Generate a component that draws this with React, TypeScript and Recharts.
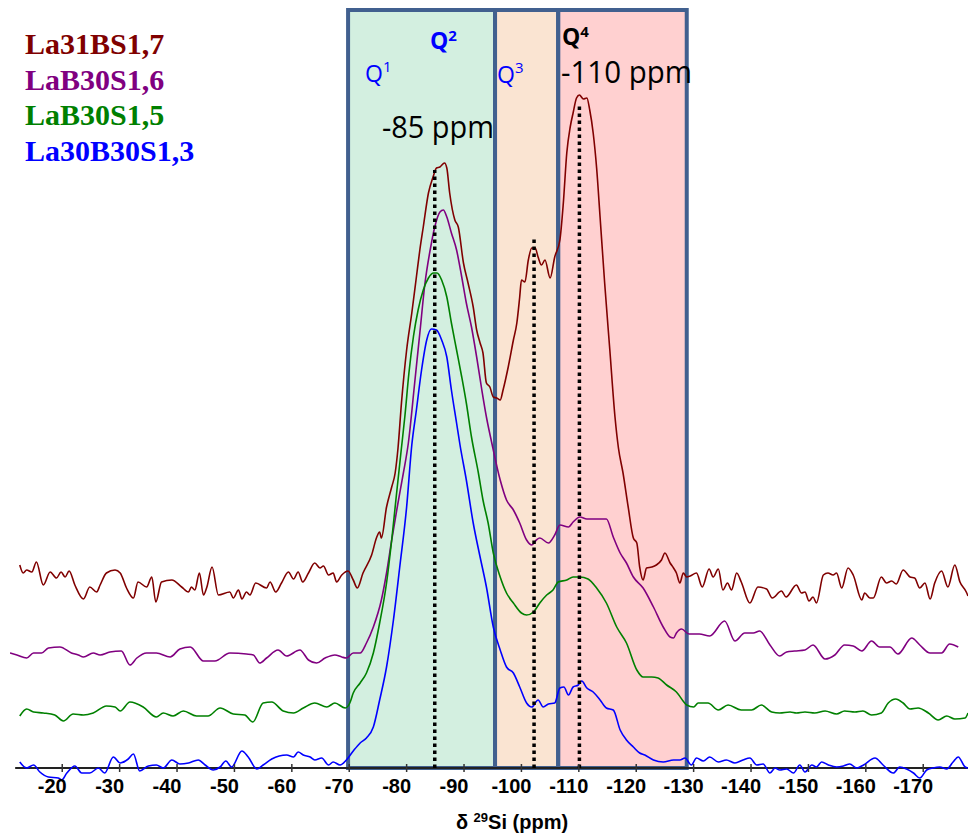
import React from 'react';
import { LineChart, Line, XAxis, YAxis, ReferenceArea, ReferenceLine } from 'recharts';

// ---------- data (chemical shift in ppm, intensity in arbitrary units above baseline) ----------
const RED_PPM = [
  -12.6, -13.2, -13.8, -14.7, -15.5, -16.7, -17.9, -19.0, -19.8, -20.5,
  -21.2, -22.2, -23.7, -24.8, -26.0, -26.6, -27.7, -29.2, -30.1, -31.2,
  -32.4, -33.2, -34.7, -35.6, -36.3, -37.3, -39.1, -40.8, -42.0, -42.5,
  -43.1, -43.9, -44.6, -45.2, -46.1, -47.2, -49.2, -49.8, -50.7, -51.3,
  -52.1, -52.7, -53.7, -55.6, -56.2, -57.2, -58.2, -59.4, -60.3, -61.1,
  -61.9, -62.9, -64.0, -64.9, -65.5, -66.4, -67.2, -67.8, -68.7, -69.8,
  -70.7, -71.4, -72.4, -73.9, -74.8, -75.3, -75.6, -76.5, -77.4, -78.0,
  -78.5, -79.1, -80.0, -80.9, -81.7, -82.3, -82.9, -83.8, -84.6, -85.2,
  -85.8, -86.6, -87.0, -87.5, -88.4, -89.0, -89.9, -90.7, -91.6, -92.2,
  -92.8, -93.3, -93.9, -94.5, -95.1, -95.7, -96.3, -96.8, -97.7, -98.6,
  -99.2, -99.7, -100.0, -100.6, -101.2, -101.8, -102.4, -102.9, -103.5, -104.1,
  -105.0, -105.8, -106.7, -107.3, -107.9, -108.5, -109.0, -109.6, -110.1, -110.8,
  -111.4, -111.9, -112.5, -113.1, -113.7, -114.5, -115.4, -116.3, -116.9, -117.7,
  -118.6, -119.5, -120.1, -120.6, -121.2, -121.8, -122.7, -123.5, -124.4, -125.0,
  -125.9, -126.5, -127.0, -127.6, -128.2, -128.8, -129.4, -130.5, -131.5, -132.7,
  -133.4, -134.3, -135.1, -135.9, -136.6, -137.5, -138.3, -139.8, -141.2, -142.7,
  -143.7, -145.3, -146.1, -147.9, -148.8, -149.4, -150.1, -150.8, -151.4, -152.6,
  -153.4, -154.3, -154.9, -155.8, -156.9, -157.8, -159.3, -159.8, -160.7, -161.3,
  -162.7, -163.6, -164.5, -165.3, -166.5, -167.7, -168.5, -169.4, -170.3, -171.2,
  -172.0, -173.2, -174.3, -175.5, -176.4, -177.5, -177.8,
];
const RED_VAL = [
  203, 195, 198, 196, 206, 183, 196, 190, 196, 191,
  197, 183, 169, 181, 176, 183, 195, 198, 195, 180,
  170, 186, 181, 191, 166, 186, 188, 181, 176, 181,
  178, 195, 173, 181, 201, 173, 176, 170, 178, 169,
  176, 173, 185, 180, 186, 176, 185, 196, 189, 196,
  186, 195, 205, 200, 202, 193, 195, 186, 193, 197,
  188, 180, 195, 213, 231, 236, 230, 261, 281, 295,
  320, 365, 418, 455, 491, 518, 541, 575, 591, 600,
  601, 605, 600, 575, 548, 541, 505, 485, 461, 438,
  425, 415, 385, 381, 371, 370, 368, 378, 401, 428,
  445, 471, 488, 486, 508, 520, 520, 511, 503, 508,
  490, 511, 528, 565, 615, 641, 655, 670, 673, 669,
  670, 658, 635, 600, 551, 485, 418, 351, 320, 295,
  261, 230, 225, 201, 188, 200, 201, 203, 208, 215,
  205, 200, 195, 185, 195, 191, 192, 195, 181, 199,
  191, 199, 178, 185, 178, 195, 186, 165, 181, 179,
  170, 177, 171, 183, 175, 176, 167, 171, 165, 193,
  195, 193, 195, 180, 200, 193, 168, 175, 170, 170,
  191, 185, 187, 184, 198, 191, 190, 180, 185, 169,
  185, 197, 181, 203, 186, 176, 172,
];

const PURPLE_PPM = [
  -10.9, -12.1, -13.8, -15.0, -16.4, -17.6, -19.6, -21.6, -22.8, -23.7,
  -25.4, -26.6, -28.3, -30.3, -31.8, -33.0, -34.7, -36.4, -38.8, -40.5,
  -42.3, -44.6, -46.6, -49.2, -52.1, -53.3, -54.4, -55.6, -57.6, -59.1,
  -61.4, -62.9, -64.3, -65.8, -67.5, -68.7, -69.5, -70.7, -71.9, -73.0,
  -74.2, -75.6, -76.5, -77.4, -78.4, -79.4, -80.3, -81.4, -82.3, -83.2,
  -84.1, -84.9, -85.8, -86.4, -87.0, -87.8, -88.7, -89.6, -90.4, -91.3,
  -92.2, -93.1, -93.9, -94.8, -96.3, -97.4, -98.6, -99.7, -100.9, -101.8,
  -102.6, -103.2, -104.7, -105.8, -106.7, -108.2, -109.0, -110.2, -111.4, -112.5,
  -114.8, -116.0, -117.2, -118.3, -119.5, -121.2, -123.0, -124.7, -125.9, -126.5,
  -127.0, -127.9, -129.2, -131.0, -132.8, -135.4, -137.2, -138.9, -140.4, -141.5,
  -143.3, -145.0, -146.2, -147.6, -149.4, -150.8, -152.9, -154.6, -156.3, -157.8,
  -159.3, -161.0, -162.4, -164.2, -165.6, -168.0, -169.4, -171.2, -173.2, -174.6,
  -176.1,
];
const PURPLE_VAL = [
  115, 113, 110, 115, 115, 120, 121, 115, 113, 111,
  115, 113, 116, 117, 103, 110, 115, 115, 111, 119,
  121, 107, 107, 115, 114, 113, 105, 110, 118, 112,
  118, 108, 105, 110, 113, 111, 110, 115, 115, 125,
  141, 168, 195, 228, 262, 294, 325, 385, 435, 485,
  518, 541, 556, 558, 551, 535, 518, 491, 465, 441,
  411, 378, 351, 326, 288, 268, 258, 245, 228, 223,
  228, 230, 225, 233, 243, 241, 246, 251, 249, 249,
  249, 231, 215, 205, 191, 180, 161, 141, 131, 130,
  135, 139, 134, 134, 132, 147, 127, 135, 135, 137,
  123, 112, 116, 117, 118, 123, 109, 113, 123, 122,
  117, 127, 121, 121, 114, 130, 123, 115, 115, 124,
  121,
];

const GREEN_PPM = [
  -12.6, -13.8, -15.0, -16.7, -18.7, -20.2, -21.9, -23.7, -25.4, -27.7,
  -29.2, -30.1, -31.8, -34.1, -36.4, -37.6, -39.3, -41.1, -43.4, -45.4,
  -47.5, -49.8, -51.8, -53.2, -55.0, -56.5, -58.5, -60.3, -62.0, -64.0,
  -66.1, -67.5, -69.3, -70.1, -70.7, -71.9, -73.0, -74.2, -75.3, -76.5,
  -77.4, -78.2, -79.0, -79.7, -80.4, -81.2, -82.0, -82.9, -83.8, -84.7,
  -85.3, -86.1, -87.0, -87.8, -88.7, -89.6, -90.4, -91.3, -92.5, -93.3,
  -94.2, -95.1, -96.3, -97.4, -98.6, -100.0, -100.9, -102.1, -103.2, -104.4,
  -105.5, -106.4, -107.9, -109.0, -110.2, -111.6, -113.1, -114.8, -116.6, -118.3,
  -120.1, -121.2, -122.7, -123.8, -125.3, -127.0, -128.8, -130.0, -130.8, -132.5,
  -134.3, -136.0, -138.3, -140.1, -141.8, -143.6, -145.0, -146.8, -147.9, -149.4,
  -151.1, -152.9, -154.9, -156.3, -158.1, -159.5, -161.0, -162.7, -163.9, -165.2,
  -166.5, -167.7, -169.1, -170.9, -172.6, -174.1, -175.5, -177.3, -177.8,
];
const GREEN_VAL = [
  52, 59, 56, 55, 53, 47, 54, 53, 55, 62,
  61, 57, 66, 61, 51, 55, 52, 57, 52, 52,
  60, 54, 53, 46, 65, 66, 57, 55, 60, 65,
  61, 65, 60, 65, 75, 85, 95, 115, 145, 185,
  228, 272, 315, 352, 395, 432, 458, 478, 490, 495,
  495, 488, 471, 445, 418, 391, 365, 331, 295, 268,
  245, 215, 191, 175, 165, 155, 153, 156, 165, 173,
  178, 186, 188, 191, 191, 189, 180, 165, 141, 125,
  98, 91, 91, 90, 83, 76, 63, 61, 65, 65,
  58, 63, 58, 58, 63, 56, 55, 56, 55, 56,
  55, 57, 54, 57, 56, 57, 53, 55, 65, 69,
  65, 59, 60, 55, 48, 52, 49, 50, 55,
];

const BLUE_PPM = [
  -12.6, -13.8, -15.0, -16.1, -17.6, -19.3, -19.9, -20.8, -22.2, -23.4,
  -24.8, -26.3, -27.4, -28.9, -30.1, -31.5, -32.4, -33.5, -35.0, -36.4,
  -37.6, -39.1, -40.5, -42.0, -43.7, -44.9, -46.3, -47.5, -48.5, -49.5,
  -51.3, -52.4, -53.9, -55.0, -56.5, -59.1, -60.3, -61.1, -62.0, -63.2,
  -64.0, -65.2, -66.4, -67.2, -68.4, -69.5, -70.7, -71.9, -73.0, -74.2,
  -75.3, -76.5, -77.7, -78.8, -80.0, -80.9, -81.7, -82.6, -83.5, -84.3,
  -85.2, -86.1, -87.0, -87.8, -88.7, -89.3, -90.4, -91.6, -92.8, -93.9,
  -95.1, -96.3, -97.4, -98.6, -99.7, -100.9, -101.8, -102.9, -103.8, -104.7,
  -105.8, -106.7, -107.4, -108.2, -109.0, -109.9, -110.5, -111.4, -112.5, -113.7,
  -114.8, -116.0, -117.2, -118.3, -119.5, -120.6, -121.5, -123.0, -124.7, -126.5,
  -127.6, -128.5, -129.6, -130.5, -131.7, -132.8, -134.3, -135.7, -137.2, -138.6,
  -139.8, -141.0, -142.1, -143.3, -144.2, -145.0, -146.2, -147.4, -148.5, -149.4,
  -150.6, -151.4, -152.3, -153.5, -154.9, -156.1, -157.2, -158.4, -159.6, -161.6,
  -163.0, -164.8, -165.9, -167.1, -168.3, -169.4, -170.6, -171.7, -172.9, -174.1,
  -175.2, -176.1, -177.3, -177.8,
];
const BLUE_VAL = [
  6, 0, 3, -4, -9, -10, -12, -5, 2, -5,
  -5, 0, -5, 11, 5, 9, 14, -3, 2, 3,
  0, 8, 4, 5, 8, 3, -2, 1, 7, 1,
  17, 11, -1, 3, 9, 13, 11, 16, 13, 11,
  8, 10, 3, 6, 3, 8, 17, 25, 30, 41,
  68, 101, 148, 201, 261, 323, 358, 398, 428, 439,
  438, 428, 411, 378, 345, 323, 288, 245, 211, 181,
  141, 118, 101, 95, 81, 65, 61, 68, 61, 64,
  65, 80, 81, 73, 81, 83, 87, 80, 76, 68,
  60, 58, 38, 28, 21, 15, 13, 8, 6, 8,
  8, 10, 3, 10, 7, 11, 6, 8, 5, 8,
  10, 3, 4, -5, 0, -2, -1, -5, 3, -4,
  3, 1, 6, 3, 1, 2, 4, 0, 3, 10,
  3, -5, 1, -1, -5, -10, -2, 0, 1, -1,
  6, 11, 1, 0,
];

const SERIES_NAMES = ['La31BS1,7', 'LaB30S1,6', 'LaB30S1,5', 'La30B30S1,3'];
const SERIES_COLORS = ['#800000', '#800080', '#008000', '#0000ff'];

const X_TICKS = [-20, -30, -40, -50, -60, -70, -80, -90, -100, -110, -120, -130, -140, -150, -160, -170];

// Qn regions (ppm boundaries) and fills
const REGION_FROM = [-69.8, -95.4, -106.4];
const REGION_TO = [-95.4, -106.4, -128.8];
const REGION_FILLS = ['#d3efe0', '#fae4d2', '#ffd0d0'];

// dotted peak markers: ppm position and top intensity
const PEAK_PPM = [-84.9, -102.2, -110.1];
const PEAK_TOP = [598, 529, 663];

// ---------- layout ----------
const W = 969;
const H = 837;
const TOP = 10;
const Y_MIN = -22;
const Y_MAX = 758;
const AXIS_Y = TOP + Y_MAX; // pixel y of intensity 0
const X_DOMAIN: [number, number] = [-177.8, -10.9];

const zip = (p: number[], v: number[]) => p.map((x, i) => ({ ppm: x, v: v[i] }));
const SERIES_DATA = [
  zip(RED_PPM, RED_VAL),
  zip(PURPLE_PPM, PURPLE_VAL),
  zip(GREEN_PPM, GREEN_VAL),
  zip(BLUE_PPM, BLUE_VAL),
];

const AxisTick = (props: any) => {
  const { x, payload } = props;
  return (
    <g>
      <line x1={x} x2={x} y1={AXIS_Y - 4} y2={AXIS_Y + 4} stroke="#333" strokeWidth={1.5} />
      <text
        x={x - 10}
        y={AXIS_Y + 25}
        textAnchor="middle"
        fontFamily="'Liberation Sans', Arial, sans-serif"
        fontWeight="bold"
        fontSize={20}
        fill="#000"
      >
        {payload.value}
      </text>
    </g>
  );
};

const labelFont = "'Open Sans', sans-serif";

export default function App() {
  return (
    <div style={{ position: 'absolute', left: 0, top: 0, width: W, height: H, background: '#fff' }}>
      <LineChart width={W} height={H} margin={{ top: TOP, right: 1, left: 10, bottom: 17 }}>
        <XAxis
          type="number"
          dataKey="ppm"
          domain={X_DOMAIN}
          reversed
          allowDataOverflow
          ticks={X_TICKS}
          interval={0}
          axisLine={false}
          tickLine={false}
          tick={AxisTick}
          height={30}
        />
        <YAxis type="number" domain={[Y_MIN, Y_MAX]} allowDataOverflow hide />
        {REGION_FROM.map((f, i) => (
          <ReferenceArea
            key={'fill' + i}
            x1={f}
            x2={REGION_TO[i]}
            y1={0}
            y2={Y_MAX}
            fill={REGION_FILLS[i]}
            fillOpacity={1}
            stroke="none"
          />
        ))}
        <ReferenceLine
          segment={[{ x: -11.8, y: 0 }, { x: -177.8, y: 0 }]}
          stroke="#222"
          strokeWidth={2}
        />
        {SERIES_DATA.map((d, i) => (
          <Line
            key={SERIES_NAMES[i]}
            data={d}
            dataKey="v"
            name={SERIES_NAMES[i]}
            type="monotone"
            stroke={SERIES_COLORS[i]}
            strokeWidth={1.6}
            dot={false}
            activeDot={false}
            isAnimationActive={false}
          />
        ))}
        {REGION_FROM.map((f, i) => (
          <ReferenceArea
            key={'edge' + i}
            x1={f}
            x2={REGION_TO[i]}
            y1={0}
            y2={Y_MAX}
            fill="none"
            stroke="#41608f"
            strokeWidth={4}
          />
        ))}
        {PEAK_PPM.map((p, i) => (
          <ReferenceLine
            key={'peak' + i}
            segment={[{ x: p, y: 0 }, { x: p, y: PEAK_TOP[i] }]}
            stroke="#000"
            strokeWidth={3.5}
            strokeDasharray="3.5 3.5"
          />
        ))}
      </LineChart>
      <svg
        width={W}
        height={H}
        style={{ position: 'absolute', left: 0, top: 0, pointerEvents: 'none' }}
      >
        {SERIES_NAMES.map((n, i) => (
          <text
            key={n}
            x={25}
            y={54 + i * 35.7}
            fontFamily="'Liberation Serif', 'Times New Roman', serif"
            fontWeight="bold"
            fontSize={30}
            fill={SERIES_COLORS[i]}
          >
            {n}
          </text>
        ))}
        <text x={365} y={82} fontFamily={labelFont} fontSize={23} fill="#0000ff">
          Q<tspan fontSize={15} dy={-10}>1</tspan>
        </text>
        <text x={430} y={49} fontFamily={labelFont} fontSize={23} fontWeight="bold" fill="#0000ff">
          Q<tspan fontSize={15} dy={-8}>2</tspan>
        </text>
        <text x={497} y={83} fontFamily={labelFont} fontSize={23} fill="#0000ff">
          Q<tspan fontSize={15} dy={-10}>3</tspan>
        </text>
        <text x={562} y={45} fontFamily={labelFont} fontSize={23} fontWeight="bold" fill="#000">
          Q<tspan fontSize={15} dy={-8}>4</tspan>
        </text>
        <text
          x={382}
          y={138}
          fontFamily={labelFont}
          fontSize={31}
          fill="#000"
          textLength={112}
          lengthAdjust="spacingAndGlyphs"
        >
          -85 ppm
        </text>
        <text
          x={561}
          y={83}
          fontFamily={labelFont}
          fontSize={31}
          fill="#000"
          textLength={131}
          lengthAdjust="spacingAndGlyphs"
        >
          -110 ppm
        </text>
        <text
          x={512}
          y={829}
          textAnchor="middle"
          fontFamily="'Liberation Sans', Arial, sans-serif"
          fontWeight="bold"
          fontSize={20}
          fill="#000"
        >
          δ <tspan fontSize={13} dy={-7}>29</tspan>
          <tspan dy={7}>Si (ppm)</tspan>
        </text>
      </svg>
    </div>
  );
}
